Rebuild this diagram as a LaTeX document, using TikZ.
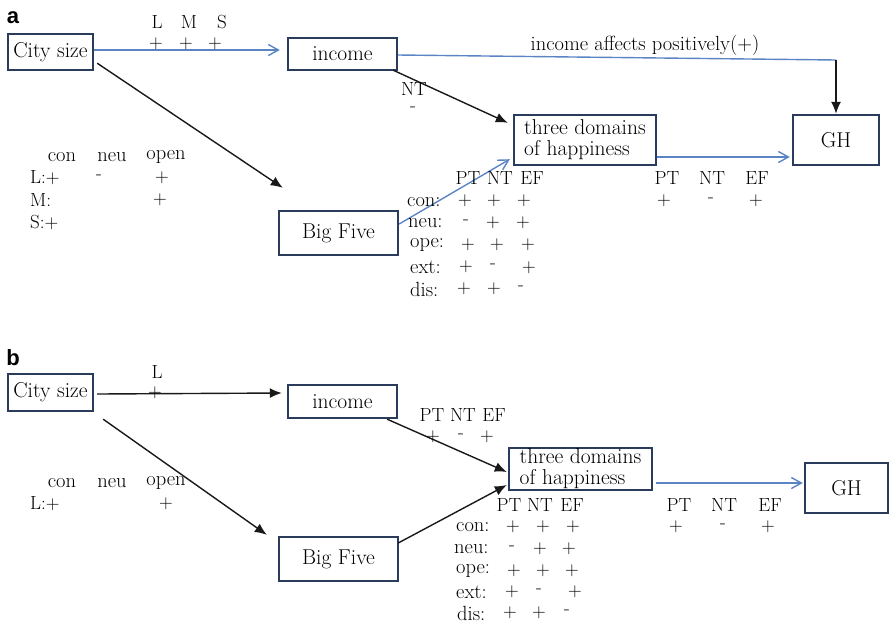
\documentclass[tikz,border=0pt]{standalone}
\usepackage{fontspec}
\newfontfamily\panelfont{Liberation Sans}
\usetikzlibrary{arrows.meta,calc}
\definecolor{navy}{HTML}{2A3B5C}
\definecolor{lblue}{HTML}{5B84C4}
\begin{document}
\begin{tikzpicture}[x=1pt,y=-1pt,
  box/.style={draw=navy, line width=2.4pt, inner sep=0pt, font=\fontsize{21.5}{21}\selectfont},
  lab/.style={font=\fontsize{19}{20}\selectfont, inner sep=0pt},
  wlab/.style={font=\fontsize{20.5}{22}\selectfont, inner sep=0pt},
  panel/.style={font=\panelfont\bfseries\fontsize{22}{24}\selectfont, inner sep=0pt, anchor=base},
  barrow/.style={-{Latex[length=12pt,width=10pt]}, line width=1.4pt, draw=black!90},
  blarrow/.style={-{Straight Barb[length=10pt,width=11pt,line width=1.4pt]}, line width=1.4pt, draw=lblue},
  bline/.style={line width=1.4pt, draw=lblue}]
\useasboundingbox (0,0) rectangle (890,625);

% ---------------- panel a ----------------
\node[panel] (pa) at (13,23) {a};
\node[box, minimum width=85pt, minimum height=36pt] (cityA) at (50.5,52) {City size};
\node[box, minimum width=109pt, minimum height=32pt] (incomeA) at (342.5,54) {income};
\node[box, minimum width=119pt, minimum height=44pt] (bigA) at (338.5,233) {Big Five};
\node[box, minimum width=142pt, minimum height=50pt, align=left] (threeA) at (585,140) {three domains\\of happiness};
\node[box, minimum width=86pt, minimum height=50pt] (ghA) at (836,140) {GH};
\coordinate (bendA) at (836,60);

\draw[blarrow] ($(cityA.east)+(0,-2)$) -- ($(incomeA.west)+(-7,-4)$);
\draw[barrow] ($(cityA.south east)+(3,-8)$) -- ($(bigA.north west)+(5,-22)$);
\draw[bline] ($(incomeA.east)+(0,1)$) -- (bendA);
\draw[barrow] (bendA) -- (ghA.north);
\draw[barrow] ($(incomeA.south east)+(-5,-1)$) -- ($(threeA.north west)+(-5,9)$);
\draw[blarrow] ($(bigA.east)+(0,-9)$) -- ($(threeA.south west)+(-3,-7)$);
\draw[blarrow] ($(threeA.east)+(0,17)$) -- ($(ghA.west)+(-2,17)$);

\node[lab] (lA) at (157,22) {L};
\node[lab] (mA) at (189,22) {M};
\node[lab] (sA) at (222,22) {S};
\node[lab] (p1A) at (156,44) {+};
\node[lab] (p2A) at (186,44) {+};
\node[lab] (p3A) at (215,44) {+};
\node[wlab] (affA) at (645,45) {income affects positively(+)};
\node[lab] (ntA) at (414,89) {NT};
\node[lab] (ntvA) at (413,109) {-};

% left table a
\node[wlab] (conA) at (62,157) {con};
\node[wlab] (neuA) at (112,157) {neu};
\node[wlab] (openA) at (166,157) {open};
\node[lab, anchor=west] (LrA) at (30,178) {L:+};
\node[lab] (Lr2A) at (99,177) {-};
\node[lab] (Lr3A) at (162,178) {+};
\node[lab, anchor=west] (MrA) at (30,200) {M:};
\node[lab] (Mr3A) at (160,200) {+};
\node[lab, anchor=west] (SrA) at (30,222) {S:+};

% big five table a
\node[lab] (hptA) at (468,178) {PT};
\node[lab] (hntA) at (500,178) {NT};
\node[lab] (hefA) at (532,178) {EF};
\node[wlab, anchor=west] (r1A) at (407,202) {con:};
\node[wlab, anchor=west] (r2A) at (408,223) {neu:};
\node[wlab, anchor=west] (r3A) at (410,245) {ope:};
\node[wlab, anchor=west] (r4A) at (410,267) {ext:};
\node[wlab, anchor=west] (r5A) at (410,289) {dis:};
\node[lab] (v11A) at (465,201) {+};\node[lab] (v12A) at (494,201) {+};\node[lab] (v13A) at (524,201) {+};
\node[lab] (v21A) at (466,222) {-};\node[lab] (v22A) at (493,223) {+};\node[lab] (v23A) at (523,223) {+};
\node[lab] (v31A) at (468,245) {+};\node[lab] (v32A) at (497,245) {+};\node[lab] (v33A) at (528,245) {+};
\node[lab] (v41A) at (466,267) {+};\node[lab] (v42A) at (493,266) {-};\node[lab] (v43A) at (529,268) {+};
\node[lab] (v51A) at (464,289) {+};\node[lab] (v52A) at (494,289) {+};\node[lab] (v53A) at (521,288) {-};

% right table a
\node[lab] (gptA) at (667,178) {PT};
\node[lab] (gntA) at (712,178) {NT};
\node[lab] (gefA) at (757,178) {EF};
\node[lab] (g1A) at (664,201) {+};
\node[lab] (g2A) at (711,200) {-};
\node[lab] (g3A) at (756,201) {+};

% ---------------- panel b ----------------
\node[panel] (pb) at (13,365) {b};
\node[box, minimum width=85pt, minimum height=37pt] (cityB) at (50.5,392.5) {City size};
\node[box, minimum width=109pt, minimum height=33pt] (incomeB) at (342.5,401.5) {income};
\node[box, minimum width=119pt, minimum height=44pt] (bigB) at (338.5,559) {Big Five};
\node[box, minimum width=143pt, minimum height=42pt, align=left] (threeB) at (580.5,469) {three domains\\of happiness};
\node[box, minimum width=83pt, minimum height=50pt] (ghB) at (846.5,488) {GH};

\draw[barrow] ($(cityB.east)+(3,1.5)$) -- ($(incomeB.west)+(-5,-8.5)$);
\draw[barrow] ($(cityB.south east)+(9,7)$) -- ($(bigB.north west)+(-11,-1)$);
\draw[barrow] ($(incomeB.south east)+(-11,0)$) -- ($(threeB.west)+(-1,3)$);
\draw[barrow] ($(bigB.east)+(-1,-16)$) -- ($(threeB.west)+(-1,16)$);
\draw[blarrow] ($(threeB.east)+(3,14)$) -- ($(ghB.west)+(-1,-5)$);

\node[lab] (lB) at (157,372) {L};
\node[lab] (pB) at (155,393) {+};
\node[lab] (iptB) at (432,415) {PT};
\node[lab] (intB) at (463,415) {NT};
\node[lab] (iefB) at (494,415) {EF};
\node[lab] (i1B) at (433,437) {+};
\node[lab] (i2B) at (461,436) {-};
\node[lab] (i3B) at (487,437) {+};

% left table b
\node[wlab] (conB) at (62,483) {con};
\node[wlab] (neuB) at (112,483) {neu};
\node[wlab] (openB) at (166,483) {open};
\node[lab, anchor=west] (LrB) at (30,504) {L:+};
\node[lab] (Lr3B) at (166,504) {+};

% big five table b
\node[lab] (hptB) at (509,505) {PT};
\node[lab] (hntB) at (540,505) {NT};
\node[lab] (hefB) at (572,505) {EF};
\node[wlab, anchor=west] (r1B) at (456,527) {con:};
\node[wlab, anchor=west] (r2B) at (454,549) {neu:};
\node[wlab, anchor=west] (r3B) at (456,571) {ope:};
\node[wlab, anchor=west] (r4B) at (456,592) {ext:};
\node[wlab, anchor=west] (r5B) at (457,613) {dis:};
\node[lab] (v11B) at (513,527) {+};\node[lab] (v12B) at (543,527) {+};\node[lab] (v13B) at (573,527) {+};
\node[lab] (v21B) at (512,548) {-};\node[lab] (v22B) at (540,549) {+};\node[lab] (v23B) at (569,549) {+};
\node[lab] (v31B) at (514,571) {+};\node[lab] (v32B) at (543,571) {+};\node[lab] (v33B) at (572,571) {+};
\node[lab] (v41B) at (512,592) {+};\node[lab] (v42B) at (539,591) {-};\node[lab] (v43B) at (575,592) {+};
\node[lab] (v51B) at (510,613) {+};\node[lab] (v52B) at (539,613) {+};\node[lab] (v53B) at (567,612) {-};

% right table b
\node[lab] (gptB) at (679,505) {PT};
\node[lab] (gntB) at (724,505) {NT};
\node[lab] (gefB) at (770,505) {EF};
\node[lab] (g1B) at (676,527) {+};
\node[lab] (g2B) at (723,526) {-};
\node[lab] (g3B) at (768,527) {+};
\end{tikzpicture}
\end{document}
